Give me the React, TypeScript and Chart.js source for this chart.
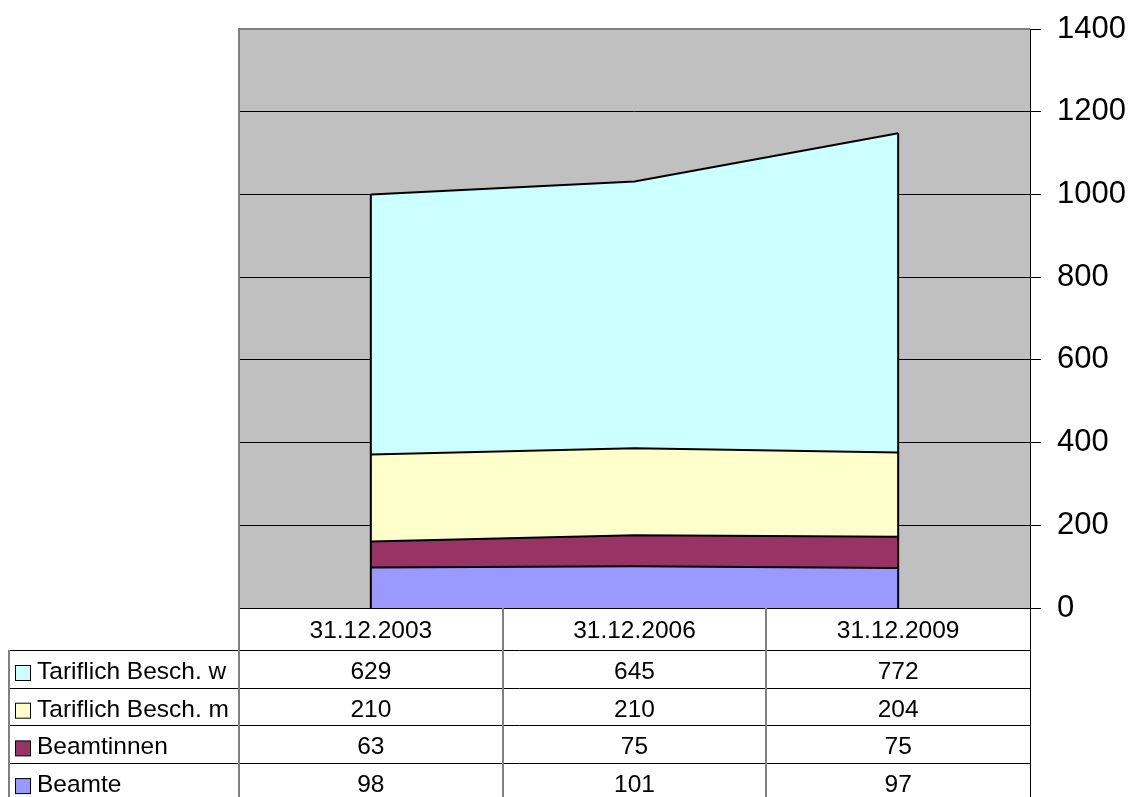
import { useEffect, useRef } from "react";
import { Chart, registerables } from "chart.js";
Chart.register(...registerables);

const categories = ["31.12.2003", "31.12.2006", "31.12.2009"];
const beamte = [98, 101, 97];
const beamtinnen = [63, 75, 75];
const tariflichM = [210, 210, 204];
const tariflichW = [629, 645, 772];

const seriesNames = ["Beamte", "Beamtinnen", "Tariflich Besch. m", "Tariflich Besch. w"];
const seriesValues = [beamte, beamtinnen, tariflichM, tariflichW];
const seriesColors = ["#9999FF", "#993366", "#FFFFCC", "#CCFFFF"];

const FONT = '"Liberation Sans", Arial, sans-serif';

export default function App() {
  const ref = useRef<HTMLCanvasElement | null>(null);

  useEffect(() => {
    if (!ref.current) return;

    const bgPlugin = {
      id: "bg",
      beforeDraw(chart: any) {
        const { ctx, chartArea: a } = chart;
        ctx.save();
        ctx.fillStyle = "#C0C0C0";
        ctx.fillRect(a.left, a.top, a.right - a.left, a.bottom - a.top);
        ctx.restore();
      },
    };

    const edgesPlugin = {
      id: "edges",
      afterDatasetsDraw(chart: any) {
        const { ctx } = chart;
        const x = chart.scales.x;
        const y = chart.scales.y;
        const n = categories.length;
        const totals = categories.map((_, i) => seriesValues.reduce((s, arr) => s + arr[i], 0));
        ctx.save();
        ctx.strokeStyle = "#000";
        ctx.lineWidth = 2;
        [0, n - 1].forEach((i) => {
          const px = x.getPixelForValue(i);
          ctx.beginPath();
          ctx.moveTo(px, y.getPixelForValue(0));
          ctx.lineTo(px, y.getPixelForValue(totals[i]));
          ctx.stroke();
        });
        ctx.restore();
      },
    };

    const tablePlugin = {
      id: "table",
      afterDraw(chart: any) {
        const { ctx, chartArea: a } = chart;
        const n = categories.length;
        const colW = (a.right - a.left) / n;
        const headerTop = a.bottom;
        const headerH = 42;
        const rowH = 37.7;
        const legendLeft = 9;
        const bottom = headerTop + headerH + rowH * 4 + 2;
        ctx.save();
        ctx.strokeStyle = "#808080";
        ctx.lineWidth = 2;
        ctx.beginPath();
        ctx.moveTo(a.left, a.bottom);
        ctx.lineTo(a.left, a.top);
        ctx.lineTo(a.right, a.top);
        ctx.stroke();

        ctx.lineWidth = 1;
        ctx.strokeStyle = "#000";
        ctx.beginPath();
        ctx.moveTo(a.left, Math.round(headerTop) + 0.5);
        ctx.lineTo(a.right, Math.round(headerTop) + 0.5);
        for (let r = 0; r < 4; r++) {
          const yy = Math.round(headerTop + headerH + r * rowH) + 0.5;
          ctx.moveTo(legendLeft, yy);
          ctx.lineTo(a.right, yy);
        }
        ctx.stroke();

        ctx.strokeStyle = "#808080";
        ctx.lineWidth = 2;
        ctx.beginPath();
        ctx.moveTo(a.left, headerTop);
        ctx.lineTo(a.left, bottom);
        for (let c = 1; c < n; c++) {
          const xx = Math.round(a.left + c * colW);
          ctx.moveTo(xx, headerTop);
          ctx.lineTo(xx, bottom);
        }
        ctx.moveTo(legendLeft, headerTop + headerH);
        ctx.lineTo(legendLeft, bottom);
        ctx.stroke();
        ctx.strokeStyle = "#000";
        ctx.lineWidth = 1;
        ctx.beginPath();
        ctx.moveTo(Math.round(a.right) + 0.5, headerTop);
        ctx.lineTo(Math.round(a.right) + 0.5, bottom);
        ctx.stroke();

        ctx.fillStyle = "#000";
        ctx.font = `24.5px ${FONT}`;
        ctx.textAlign = "center";
        ctx.textBaseline = "alphabetic";
        categories.forEach((c, i) => {
          ctx.fillText(c, a.left + colW * (i + 0.5), headerTop + 30);
        });

        for (let r = 0; r < 4; r++) {
          const si = 3 - r;
          const top = headerTop + headerH + r * rowH;
          const base = top + 29;
          ctx.textAlign = "center";
          ctx.fillStyle = "#000";
          seriesValues[si].forEach((v, i) => {
            ctx.fillText(String(v), a.left + colW * (i + 0.5), base);
          });
          ctx.fillStyle = seriesColors[si];
          ctx.fillRect(15.5, top + 15.5, 15, 15);
          ctx.strokeStyle = "#000";
          ctx.lineWidth = 1;
          ctx.strokeRect(15.5, top + 15.5, 15, 15);
          ctx.fillStyle = "#000";
          ctx.textAlign = "left";
          ctx.fillText(seriesNames[si], 37, base);
        }
        ctx.restore();
      },
    };

    const chart = new Chart(ref.current, {
      type: "line",
      data: {
        labels: categories,
        datasets: seriesValues.map((vals, i) => ({
          label: seriesNames[i],
          data: vals,
          backgroundColor: seriesColors[i],
          borderColor: "#000",
          borderWidth: 2,
          pointRadius: 0,
          tension: 0,
          fill: i === 0 ? "origin" : "-1",
        })),
      },
      options: {
        responsive: false,
        animation: false,
        layout: { padding: { left: 239, top: 29, bottom: 189, right: 0 } },
        plugins: {
          legend: { display: false },
          tooltip: { enabled: false },
        },
        scales: {
          x: {
            type: "category",
            offset: true,
            display: false,
          },
          y: {
            position: "right",
            stacked: true,
            min: 0,
            max: 1400,
            ticks: {
              stepSize: 200,
              color: "#000",
              font: { family: FONT, size: 31 },
              padding: 16,
              callback: (v: any) => String(v),
            },
            grid: {
              color: "#000",
              lineWidth: 1,
              tickLength: 11,
              drawTicks: true,
            },
            border: { color: "#000", width: 1 },
            afterFit(scale: any) {
              scale.width = 106;
              scale.paddingTop = 0;
              scale.paddingBottom = 0;
            },
          },
        },
      },
      plugins: [bgPlugin, edgesPlugin, tablePlugin],
    } as any);

    return () => chart.destroy();
  }, []);

  return (
    <div style={{ position: "fixed", left: 0, top: 0, width: 1136, height: 797, background: "#fff" }}>
      <canvas ref={ref} width={1136} height={797} style={{ display: "block" }} />
    </div>
  );
}
